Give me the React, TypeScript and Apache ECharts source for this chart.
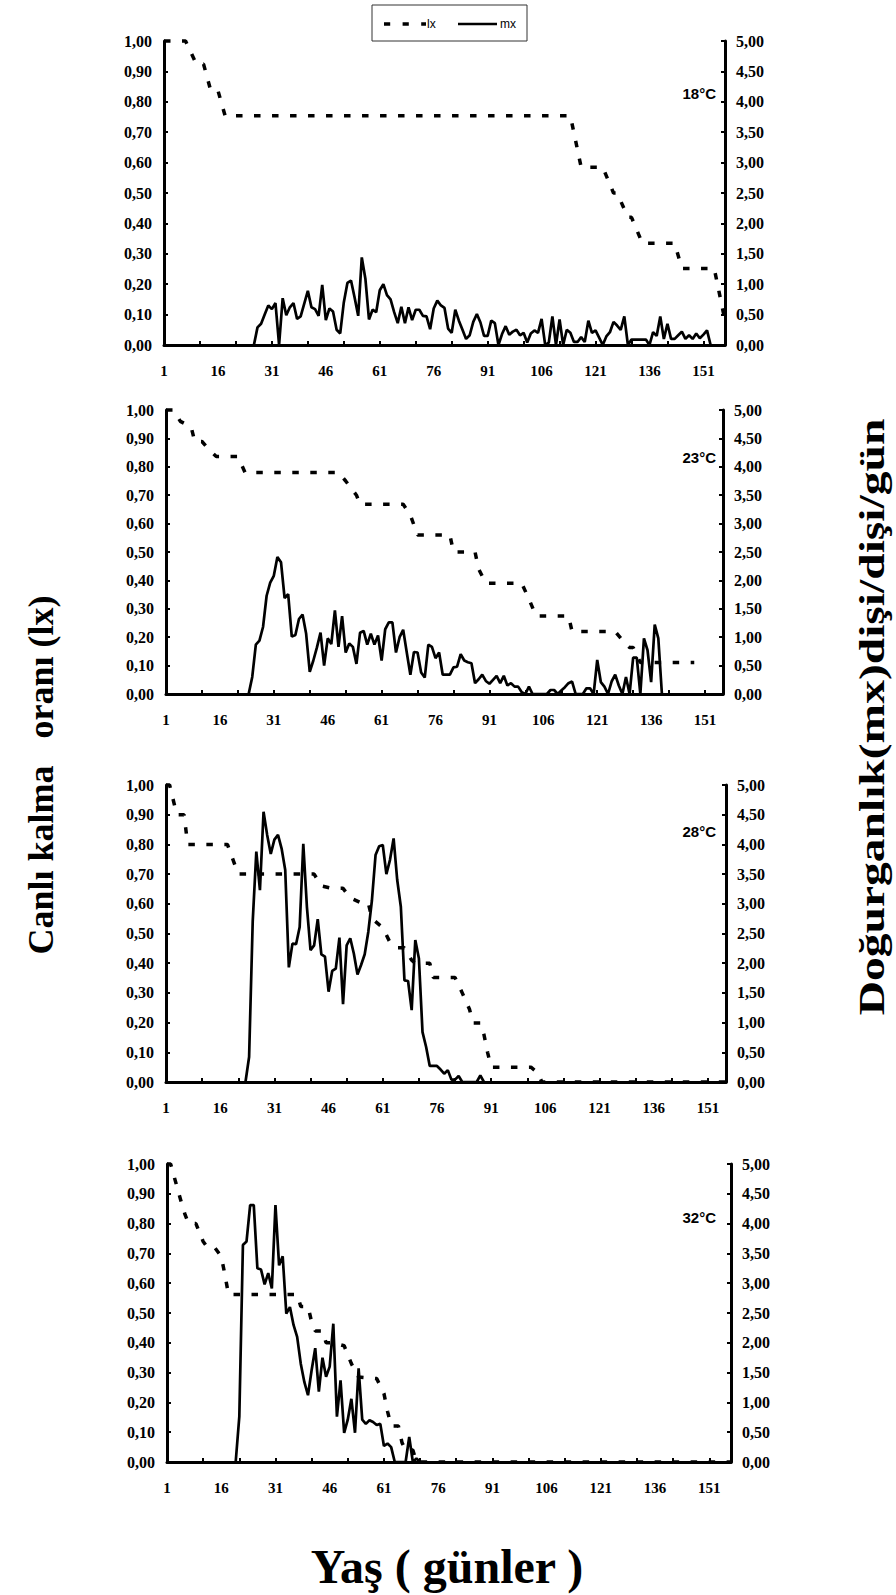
import React, { useEffect, useRef } from "react";
import * as echarts from "echarts";

const W = 896;
const H = 1595;

// panel labels and category counts (days on x axis)
const panelTemps = ["18°C", "23°C", "28°C", "32°C"];
const panelDayCounts = [157, 156, 156, 157];

// lx (survival) vertices: [day, value]
const lx18 = [[1,1.0],[7,1.0],[10,0.924],[12,0.924],[14,0.837],[16,0.837],[18,0.754],[114,0.754],[117,0.585],[123,0.585],[126,0.50],[127,0.50],[130,0.42],[131,0.42],[134,0.335],[143,0.335],[145,0.252],[154,0.252],[157,0.08]];
const lx23 = [[1,1.0],[3,1.0],[5,0.96],[8,0.94],[9,0.889],[11,0.889],[13,0.86],[15,0.836],[21,0.836],[23,0.78],[49,0.78],[51,0.75],[54,0.70],[55,0.668],[67,0.668],[69,0.63],[71,0.56],[80,0.56],[81,0.50],[87,0.50],[88,0.44],[90,0.39],[100,0.39],[102,0.334],[104,0.275],[113,0.275],[114,0.22],[126,0.22],[128,0.19],[130,0.164],[131,0.164],[133,0.111],[148,0.111]];
const lx28 = [[1,1.0],[2,1.0],[4,0.90],[6,0.90],[7,0.80],[18,0.80],[21,0.70],[42,0.70],[44,0.66],[47,0.652],[50,0.652],[52,0.62],[55,0.603],[57,0.603],[58,0.55],[61,0.52],[63,0.47],[65,0.452],[67,0.452],[69,0.41],[70,0.40],[74,0.40],[75,0.352],[81,0.352],[83,0.30],[85,0.245],[86,0.199],[88,0.199],[89,0.16],[90,0.10],[91,0.05],[102,0.05],[104,0.03],[105,0],[156,0]];
const lx32 = [[1,1.0],[2,1.0],[5,0.87],[6,0.83],[7,0.80],[9,0.80],[11,0.74],[12,0.723],[14,0.723],[16,0.69],[17,0.63],[18,0.562],[37,0.562],[38,0.522],[40,0.522],[41,0.47],[42,0.44],[44,0.44],[45,0.40],[47,0.40],[50,0.39],[52,0.33],[54,0.285],[59,0.28],[61,0.23],[62,0.17],[63,0.121],[65,0.121],[66,0.065],[67,0.04],[69,0.04],[70,0],[157,0]];

// mx (daily fecundity) values, one per day from the given start day
const mx18Start = 26;
const mx18 = [0,0.29,0.35,0.50,0.65,0.59,0.69,0.00,0.77,0.49,0.62,
  0.69,0.43,0.47,0.68,0.89,0.62,0.59,0.48,0.99,0.41,
  0.60,0.55,0.25,0.19,0.70,1.02,1.06,0.78,0.48,1.44,
  1.09,0.42,0.58,0.54,0.90,1.00,0.82,0.75,0.54,0.36,
  0.63,0.36,0.62,0.41,0.58,0.58,0.48,0.47,0.26,0.60,
  0.73,0.65,0.61,0.27,0.20,0.58,0.40,0.25,0.10,0.16,
  0.38,0.51,0.37,0.15,0.15,0.40,0.36,0.00,0.18,0.31,
  0.17,0.22,0.25,0.16,0.20,0.04,0.19,0.24,0.20,0.43,
  0.00,0.04,0.47,0.00,0.42,0.00,0.25,0.20,0.05,0.05,
  0.13,0.05,0.40,0.20,0.24,0.12,0.00,0.14,0.21,0.38,
  0.32,0.25,0.47,0.00,0.09,0.09,0.09,0.09,0.09,0.00,
  0.21,0.15,0.47,0.10,0.35,0.10,0.10,0.16,0.22,0.10,
  0.16,0.10,0.19,0.11,0.17,0.24,0.00];

const mx23Start = 24;
const mx23 = [0,0.30,0.87,0.94,1.18,1.73,1.96,2.08,2.41,2.32,
  1.69,1.76,1.01,1.04,1.32,1.40,1.06,0.39,0.59,0.82,
  1.08,0.50,0.98,0.88,1.47,0.83,1.37,0.73,0.89,0.83,
  0.53,1.08,1.11,0.87,1.06,0.87,1.03,0.59,1.14,1.26,
  1.26,0.73,1.00,1.13,0.73,0.34,0.74,0.73,0.38,0.29,
  0.87,0.83,0.63,0.73,0.34,0.34,0.34,0.47,0.48,0.70,
  0.59,0.56,0.54,0.19,0.26,0.34,0.23,0.18,0.25,0.32,
  0.19,0.32,0.15,0.19,0.13,0.13,0.03,0.00,0.13,0.00,
  0.00,0.00,0.00,0.00,0.07,0.07,0.00,0.06,0.12,0.19,
  0.22,0.00,0.00,0.00,0.10,0.10,0.00,0.60,0.21,0.13,
  0.00,0.22,0.34,0.15,0.00,0.30,0.00,0.64,0.64,0.00,
  0.98,0.77,0.21,1.22,0.98,0.00];

const mx28Start = 23;
const mx28 = [0,0.42,2.70,3.88,3.23,4.55,4.16,3.84,4.08,4.16,
  3.93,3.57,1.93,2.33,2.32,2.61,4.01,2.95,2.22,2.30,
  2.74,2.15,2.11,1.52,1.87,1.91,2.43,1.31,2.30,2.42,
  2.16,1.81,1.97,2.15,2.53,3.06,3.82,3.97,3.99,3.50,
  3.74,4.10,3.40,2.95,1.71,1.70,1.21,2.39,2.08,0.84,
  0.59,0.27,0.27,0.27,0.21,0.14,0.20,0.04,0.04,0.10,
  0.00,0.00,0.00,0.00,0.00,0.11,0.00];

const mx32Start = 20;
const mx32 = [0,0.76,3.64,3.70,4.31,4.31,3.25,3.23,2.98,3.17,
  2.91,4.31,3.30,3.45,2.49,2.60,2.30,2.10,1.65,1.34,
  1.12,1.54,1.91,1.18,1.75,1.43,1.60,2.32,0.76,1.37,
  0.49,0.71,1.06,0.49,1.57,0.71,0.64,0.70,0.67,0.62,
  0.64,0.27,0.31,0.25,0.00,0.00,0.00,0.00,0.42,0.00,
  0.06,0.00];

// axis scales
const lxAxisMax = 1;
const lxAxisStep = 0.1;
const mxAxisMax = 5;
const mxAxisStep = 0.5;
const xLabelEvery = 15;
const xTickEvery = 10;

const lxSets = [lx18, lx23, lx28, lx32];
const mxSets = [mx18, mx23, mx28, mx32];
const mxStarts = [mx18Start, mx23Start, mx28Start, mx32Start];

// layout (pixels)
const grids = [
  { left: 164, top: 41, width: 561, height: 304 },
  { left: 166, top: 410, width: 557, height: 284 },
  { left: 166, top: 785, width: 560, height: 297 },
  { left: 167, top: 1164, width: 564, height: 298 },
];
const tempLabelY = [93, 457, 831, 1217];

const SERIF = "'Liberation Serif', 'Times New Roman', serif";
const SANS = "'Liberation Sans', Arial, sans-serif";

function fmt(v: number) {
  return v.toFixed(2).replace(".", ",");
}

export default function App() {
  const ref = useRef<HTMLDivElement>(null);
  useEffect(() => {
    const chart = echarts.init(ref.current!, null, { renderer: "svg", width: W, height: H });
    const axisLine = { show: true, onZero: false, lineStyle: { color: "#000", width: 3 } };
    const tick = { show: true, inside: true, length: 4, lineStyle: { color: "#000", width: 2 } };
    const labelFont = { color: "#000", fontFamily: SERIF, fontWeight: "bold" as const };

    const xAxis = grids.map((g, i) => ({
      type: "category" as const,
      gridIndex: i,
      boundaryGap: false,
      data: Array.from({ length: panelDayCounts[i] }, (_, k) => String(k + 1)),
      axisLine,
      axisTick: { ...tick, interval: xTickEvery - 1 },
      axisLabel: { ...labelFont, fontSize: 15, interval: xLabelEvery - 1, margin: 18 },
      splitLine: { show: false },
    }));
    const yAxis: any[] = [];
    grids.forEach((g, i) => {
      yAxis.push({
        type: "value", gridIndex: i, position: "left", min: 0, max: lxAxisMax, interval: lxAxisStep,
        axisLine, axisTick: tick, splitLine: { show: false },
        axisLabel: { ...labelFont, fontSize: 16, margin: 12, formatter: fmt },
      });
      yAxis.push({
        type: "value", gridIndex: i, position: "right", min: 0, max: mxAxisMax, interval: mxAxisStep,
        axisLine, axisTick: tick, splitLine: { show: false },
        axisLabel: { ...labelFont, fontSize: 16, margin: 11, formatter: fmt },
      });
    });
    const series: any[] = [];
    grids.forEach((g, i) => {
      series.push({
        type: "line", name: "lx", xAxisIndex: i, yAxisIndex: 2 * i, clip: false,
        data: lxSets[i].map(([d, v]) => [d - 1, v]),
        symbol: "none", silent: true,
        lineStyle: { color: "#000", width: 3.5, type: [6.5, 11.5], cap: "butt" },
      });
      series.push({
        type: "line", name: "mx", xAxisIndex: i, yAxisIndex: 2 * i + 1, clip: false,
        data: mxSets[i].map((v, k) => [mxStarts[i] - 1 + k, v]),
        symbol: "none", silent: true,
        lineStyle: { color: "#000", width: 2.7 },
      });
    });

    const graphic: any[] = [
      // legend
      { type: "rect", shape: { x: 372, y: 5, width: 155, height: 36 }, style: { fill: "#fff", stroke: "#333", lineWidth: 1 } },
      { type: "line", shape: { x1: 384, y1: 24, x2: 426, y2: 24 }, style: { stroke: "#000", lineWidth: 3.5, lineDash: [6.2, 12.4] } },
      { type: "text", x: 427, y: 24, style: { text: "lx", fill: "#000", font: `12px ${SANS}`, verticalAlign: "middle", align: "left" } },
      { type: "line", shape: { x1: 458, y1: 24, x2: 497, y2: 24 }, style: { stroke: "#000", lineWidth: 2.5 } },
      { type: "text", x: 500, y: 24, style: { text: "mx", fill: "#000", font: `12px ${SANS}`, verticalAlign: "middle", align: "left" } },
      // axis titles
      { type: "text", x: 41, y: 775, rotation: Math.PI / 2, style: { text: "Canlı kalma   oranı (lx)", fill: "#000", font: `bold 36px ${SERIF}`, align: "center", verticalAlign: "middle" } },
      { type: "text", x: 872, y: 717, rotation: Math.PI / 2, scaleX: 1.32, style: { text: "Doğurganlık(mx)dişi/dişi/gün", fill: "#000", font: `bold 36px ${SERIF}`, align: "center", verticalAlign: "middle" } },
      { type: "text", x: 447, y: 1566, style: { text: "Yaş ( günler )", fill: "#000", font: `bold 48px ${SERIF}`, align: "center", verticalAlign: "middle" } },
    ];
    panelTemps.forEach((t, i) => {
      graphic.push({ type: "text", x: 716, y: tempLabelY[i], style: { text: t, fill: "#000", font: `bold 15px ${SANS}`, align: "right", verticalAlign: "middle" } });
    });

    chart.setOption({
      animation: false,
      backgroundColor: "#fff",
      grid: grids.map((g) => ({ ...g, containLabel: false })),
      xAxis,
      yAxis,
      series,
      graphic,
    });
    return () => chart.dispose();
  }, []);
  return <div ref={ref} style={{ position: "absolute", left: 0, top: 0, width: W, height: H, background: "#fff" }} />;
}
